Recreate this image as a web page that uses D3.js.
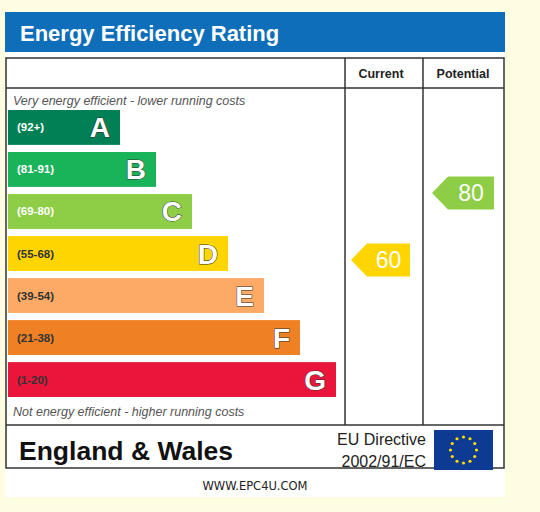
<!DOCTYPE html>
<html><head><meta charset="utf-8">
<script src="https://cdn.jsdelivr.net/npm/d3@7"></script>
<style>body{margin:0;background:#fffde1}</style>
</head><body><svg id="c" width="540" height="512"></svg>
<script>
const bands = ["A", "B", "C", "D", "E", "F", "G"];
const ranges = ["(92+)", "(81-91)", "(69-80)", "(55-68)", "(39-54)", "(21-38)", "(1-20)"];
const mins = [92, 81, 69, 55, 39, 21, 1];
const colors = ["#008054", "#19b459", "#8dce46", "#ffd500", "#fcaa65", "#ef8023", "#e9153b"];
const current = 60;
const potential = 80;

const svg = d3.select("#c");
svg.append("rect").attr("x", 5).attr("y", 12).attr("width", 500).attr("height", 485).attr("fill", "#fff");
svg.append("rect").attr("x", 5).attr("y", 12).attr("width", 500).attr("height", 40).attr("fill", "#0f6eb9");
svg.append("text").attr("x", 20).attr("y", 41).text("Energy Efficiency Rating")
  .attr("fill", "#fff").attr("font-family", "Liberation Sans, Arial").attr("font-weight", "bold").attr("font-size", 22);

const y = d3.scaleBand().domain(bands).range([110, 397]).paddingInner(0.17).paddingOuter(0);
const w = d3.scaleLinear().domain([0, 6]).range([120, 336]);
// rating value -> arrow centre
const vy = d3.scaleLinear().domain([80, 60]).range([193, 260]);
const bandOf = v => bands[mins.findIndex(m => v >= m)];

const line = (x1, y1, x2, y2) => svg.append("line").attr("x1", x1).attr("y1", y1).attr("x2", x2).attr("y2", y2)
  .attr("stroke", "#333").attr("stroke-width", 1.5);
svg.append("rect").attr("x", 6).attr("y", 58).attr("width", 498).attr("height", 410)
  .attr("fill", "none").attr("stroke", "#333").attr("stroke-width", 1.5);
line(6, 88, 504, 88); line(6, 425, 504, 425);
line(345, 58, 345, 425); line(423, 58, 423, 425);

const hdr = {"font-family": "Liberation Sans, Arial", "font-weight": "bold", "font-size": 12.5, "text-anchor": "middle", fill: "#222"};
const setA = (s, o) => { for (const k in o) s.attr(k, o[k]); return s; };
setA(svg.append("text").attr("x", 381).attr("y", 78).text("Current"), hdr);
setA(svg.append("text").attr("x", 463).attr("y", 78).text("Potential"), hdr);

const ital = {"font-family": "Liberation Sans, Arial", "font-style": "italic", "font-size": 12.5, fill: "#555"};
setA(svg.append("text").attr("x", 13).attr("y", 105).text("Very energy efficient - lower running costs"), ital);
setA(svg.append("text").attr("x", 13).attr("y", 416).text("Not energy efficient - higher running costs"), ital);

const g = svg.selectAll("g.band").data(bands).join("g").attr("class", "band");
g.append("rect").attr("x", 8).attr("y", d => y(d)).attr("height", y.bandwidth())
  .attr("width", (d, i) => w(i) - 8).attr("fill", (d, i) => colors[i]);
g.append("text").attr("x", 17).attr("y", d => y(d) + y.bandwidth() / 2 + 4).text((d, i) => ranges[i])
  .attr("font-family", "Liberation Sans, Arial").attr("font-weight", "bold").attr("font-size", 11.5)
  .attr("fill", (d, i) => i < 3 ? "#fff" : "#333");
g.append("text").attr("x", (d, i) => w(i) - 10).attr("y", d => y(d) + y.bandwidth() / 2 + 10).text(d => d)
  .attr("text-anchor", "end").attr("font-family", "Liberation Sans, Arial").attr("font-weight", "bold").attr("font-size", 28)
  .attr("fill", "#fff").attr("stroke", "#333").attr("stroke-width", 1).attr("paint-order", "stroke");

function arrow(v, x0, x1) {
  const i = bands.indexOf(bandOf(v));
  const h = 33, t = vy(v) - h / 2;
  svg.append("path").attr("fill", colors[i])
    .attr("d", `M${x0},${t + h / 2}L${x0 + 16},${t}H${x1}V${t + h}H${x0 + 16}Z`);
  svg.append("text").attr("x", (x0 + 16 + x1) / 2).attr("y", t + h / 2 + 8).text(v)
    .attr("text-anchor", "middle").attr("font-family", "Liberation Sans, Arial").attr("font-size", 23).attr("fill", "#fff");
}
arrow(current, 351, 410);
arrow(potential, 432, 494);

svg.append("text").attr("x", 19).attr("y", 460).text("England & Wales")
  .attr("font-family", "Liberation Sans, Arial").attr("font-weight", "bold").attr("font-size", 26.5).attr("fill", "#111");
const eu = {"font-family": "Liberation Sans, Arial", "font-size": 16, "text-anchor": "end", fill: "#222"};
setA(svg.append("text").attr("x", 426).attr("y", 445).text("EU Directive"), eu);
setA(svg.append("text").attr("x", 426).attr("y", 467).text("2002/91/EC"), eu);
svg.append("rect").attr("x", 434).attr("y", 430).attr("width", 59).attr("height", 40).attr("fill", "#0d3b94");
const stars = d3.range(12);
svg.selectAll("circle.star").data(stars).join("circle").attr("class", "star")
  .attr("cx", d => 463.5 + 13 * Math.sin(d * Math.PI / 6)).attr("cy", d => 450 - 13 * Math.cos(d * Math.PI / 6))
  .attr("r", 1.6).attr("fill", "#ffdd00");

svg.append("text").attr("x", 255).attr("y", 490).text("WWW.EPC4U.COM").attr("text-anchor", "middle")
  .attr("font-family", "DejaVu Sans, sans-serif").attr("font-size", 11.5).attr("fill", "#222");
</script></body></html>
